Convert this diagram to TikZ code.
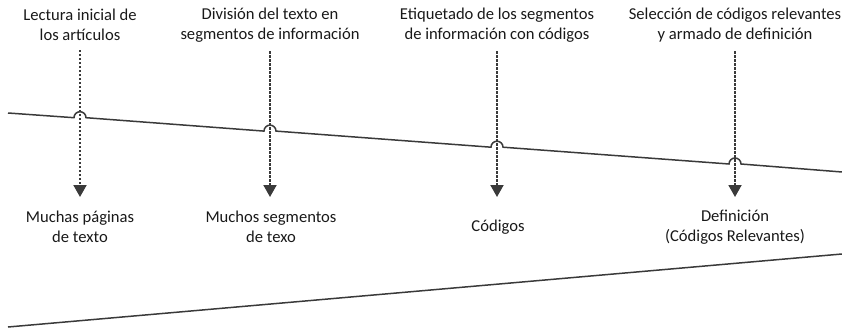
\documentclass[tikz,border=0pt]{standalone}
\usepackage{fontspec}
\setmainfont{Carlito}
\usetikzlibrary{arrows.meta}
\definecolor{ln}{HTML}{3A3A3A}
\begin{document}
\begin{tikzpicture}[x=1pt,y=-1pt,
  lab/.style={align=center,inner sep=0pt,font=\fontsize{16.6}{20}\selectfont,text=black!90},
  arr/.style={draw=ln,line width=1.9pt,dash pattern=on 2.4pt off 1.6pt,
    -{Triangle[width=13pt,length=12pt]},shorten <=9pt},
  mainline/.style={draw=ln,line width=1.5pt}]
\useasboundingbox (0,0) rectangle (842,331);
% labels top
\node[lab] (t1) at (80,25) {Lectura inicial de\\los artículos};
\node[lab] (t2) at (270,25) {División del texto en\\segmentos de información};
\node[lab] (t3) at (497,25) {Etiquetado de los segmentos\\de información con códigos};
\node[lab] (t4) at (735,25) {Selección de códigos relevantes\\y armado de definición};
% labels bottom
\node[lab] (b1) at (80,227) {Muchas páginas\\de texto};
\node[lab] (b2) at (271,227) {Muchos segmentos\\de texo};
\node[lab] (b3) at (498,227) {Códigos};
\node[lab] (b4) at (735,227) {Definición\\(Códigos Relevantes)};
% arrow ends
\coordinate (e1) at (80,197);
\coordinate (e2) at (270,197);
\coordinate (e3) at (497,197);
\coordinate (e4) at (735,197);
\draw[arr] (t1.south) -- (e1);
\draw[arr] (t2.south) -- (e2);
\draw[arr] (t3.south) -- (e3);
\draw[arr] (t4.south) -- (e4);
% upper line with jumps
\coordinate (uL) at (8,113);
\coordinate (uR) at (842,172);
\draw[mainline] (uL) -- (74,117.7) arc[start angle=180,end angle=360,radius=6]
  -- (264,131.1) arc[start angle=180,end angle=360,radius=6]
  -- (491,147.2) arc[start angle=180,end angle=360,radius=6]
  -- (729,164.0) arc[start angle=180,end angle=360,radius=6]
  -- (uR);
% lower line
\coordinate (lL) at (8,327);
\coordinate (lR) at (842,254);
\draw[mainline] (lL) -- (lR);
\end{tikzpicture}
\end{document}
